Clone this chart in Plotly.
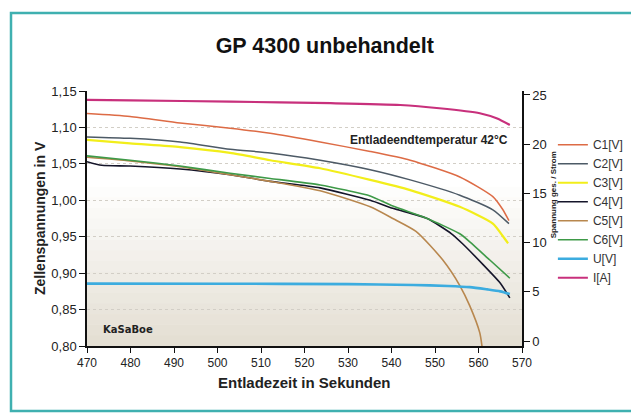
import plotly.graph_objects as go

# ---- data ----
t_c1 = [470, 479.9, 491.4, 502.9, 512.1, 523.6, 535.1, 544.3, 555.7, 563.3, 565.5, 567.0]
v_c1 = [1.119, 1.115, 1.106, 1.099, 1.092, 1.080, 1.067, 1.055, 1.032, 1.005, 0.988, 0.972]

t_c2 = [470, 479.9, 491.4, 502.9, 512.1, 523.6, 535.1, 544.3, 555.7, 563.3, 567.0]
v_c2 = [1.087, 1.085, 1.080, 1.070, 1.065, 1.055, 1.042, 1.028, 1.007, 0.987, 0.968]

t_c3 = [470, 479.9, 491.4, 502.9, 512.1, 523.6, 535.1, 544.3, 555.7, 563.3, 565.7, 566.8]
v_c3 = [1.083, 1.078, 1.073, 1.065, 1.055, 1.044, 1.028, 1.014, 0.991, 0.968, 0.950, 0.941]

t_c4 = [470, 473.4, 479.9, 491.4, 502.9, 512.1, 523.6, 535.1, 540.3, 548.2, 553.8, 556.4, 561.0, 564.9, 567.2]
v_c4 = [1.053, 1.048, 1.047, 1.043, 1.035, 1.026, 1.017, 1.000, 0.989, 0.975, 0.954, 0.940, 0.912, 0.887, 0.866]

t_c5 = [470, 479.9, 491.4, 502.9, 512.1, 523.6, 535.1, 540.3, 545.7, 551.8, 555.7, 558.0, 560.3, 560.8]
v_c5 = [1.059, 1.054, 1.046, 1.035, 1.026, 1.013, 0.991, 0.975, 0.957, 0.918, 0.883, 0.855, 0.818, 0.800]

t_c6 = [470, 479.9, 491.4, 502.9, 512.1, 523.6, 529.4, 535.1, 540.3, 548.2, 555.7, 558.0, 562.6, 567.2]
v_c6 = [1.061, 1.055, 1.047, 1.037, 1.030, 1.021, 1.014, 1.006, 0.992, 0.975, 0.954, 0.943, 0.918, 0.893]

t_u = [470, 500, 530, 545, 553, 558, 562, 565, 567.2]
v_u = [5.84, 5.83, 5.78, 5.70, 5.60, 5.48, 5.25, 5.05, 4.78]

t_i = [470, 480, 503, 526, 542, 551, 560.3, 564.3, 567.2]
v_i = [24.49, 24.45, 24.32, 24.16, 23.98, 23.65, 23.14, 22.60, 21.95]

x_ticks = [470, 480, 490, 500, 510, 520, 530, 540, 550, 560, 570]

series = [
    ("C1[V]", t_c1, v_c1, "#dd6b45", 1.5, "y"),
    ("C2[V]", t_c2, v_c2, "#4d5a66", 1.5, "y"),
    ("C3[V]", t_c3, v_c3, "#f2ee1a", 2.2, "y"),
    ("C4[V]", t_c4, v_c4, "#15152a", 1.6, "y"),
    ("C5[V]", t_c5, v_c5, "#b8874e", 1.6, "y"),
    ("C6[V]", t_c6, v_c6, "#3e9a48", 1.6, "y"),
    ("U[V]", t_u, v_u, "#3cacdf", 2.6, "y2"),
    ("I[A]", t_i, v_i, "#c8307c", 2.2, "y2"),
]

FONT = "Liberation Sans, Arial, sans-serif"

fig = go.Figure()
for name, xs, ys, col, w, ax in series:
    fig.add_trace(go.Scatter(
        x=xs, y=ys, name=name, mode="lines", yaxis=ax,
        line=dict(color=col, width=w, shape="spline", smoothing=0.6),
    ))

# gradient background (white top -> beige bottom)
shapes = []
n = 24
for k in range(n):
    f = k / n
    mix = max(0.0, (0.62 - f) / 0.62)
    r = int(round(255 - (255 - 228) * mix))
    g = int(round(255 - (255 - 223) * mix))
    b = int(round(255 - (255 - 211) * mix))
    shapes.append(dict(type="rect", xref="paper", yref="paper",
                       x0=0, x1=1, y0=k / n, y1=(k + 1) / n + 0.002,
                       fillcolor=f"rgb({r},{g},{b})", line=dict(width=0),
                       layer="below"))
# teal outer frame
shapes.append(dict(type="rect", xref="paper", yref="paper",
                   x0=-0.1747, x1=1.262, y0=-0.255, y1=1.306,
                   line=dict(color="#3fb0b0", width=2.5), layer="above"))

fig.update_layout(
    width=631, height=408,
    margin=dict(l=79, r=117, t=83, b=70, autoexpand=False),
    paper_bgcolor="white", plot_bgcolor="rgba(0,0,0,0)",
    separators=",.",
    font=dict(family=FONT, color="#222", size=12),
    title=dict(text="<b>GP 4300 unbehandelt</b>", x=0.502, xanchor="center",
               y=0.909, yanchor="middle", font=dict(size=21.5, color="#111")),
    xaxis=dict(range=[470, 570], tickvals=x_ticks, ticks="outside", ticklen=5,
               tickcolor="#111", showline=True, linecolor="#111", linewidth=1.5,
               showgrid=False, zeroline=False, tickfont=dict(size=12)),
    yaxis=dict(range=[0.80, 1.15], dtick=0.05, tickformat=".2f", ticks="outside",
               ticklen=6, tickcolor="#111", showline=True, linecolor="#111",
               linewidth=1.5, showgrid=True, gridcolor="#d2cec6", gridwidth=1,
               griddash="dot", zeroline=False, tickfont=dict(size=13)),
    yaxis2=dict(range=[-0.5, 25.4], tickvals=[0, 5, 10, 15, 20, 25], overlaying="y",
                side="right", ticks="outside", ticklen=6, tickcolor="#111",
                showline=True, linecolor="#111", linewidth=1.5, showgrid=False,
                zeroline=False, tickfont=dict(size=13)),
    legend=dict(x=1.071, y=0.846, xanchor="left", yanchor="top",
                font=dict(size=12, color="#333"), bgcolor="rgba(0,0,0,0)",
                itemwidth=30, tracegroupgap=0),
    shapes=shapes,
    annotations=[
        dict(text="<b>Zellenspannungen in V</b>", xref="paper", yref="paper",
             x=-0.108, y=0.502, xanchor="center", yanchor="middle",
             textangle=-90, showarrow=False, font=dict(size=14, color="#222")),
        dict(text="<b>Entladezeit in Sekunden</b>", xref="paper", yref="paper",
             x=0.5, y=-0.145, xanchor="center", yanchor="middle",
             showarrow=False, font=dict(size=15, color="#222")),
        dict(text="<b>Spannung ges. / Strom</b>", xref="paper", yref="paper",
             x=1.072, y=0.592, xanchor="center", yanchor="middle",
             textangle=-90, showarrow=False, font=dict(size=8, color="#222")),
        dict(text="<b>Entladeendtemperatur 42°C</b>", xref="paper", yref="paper",
             x=0.972, y=0.808, xanchor="right", yanchor="middle", showarrow=False,
             font=dict(size=12, color="#222")),
        dict(text="<b>KaSaBoe</b>", xref="paper", yref="paper",
             x=0.032, y=0.063, xanchor="left", yanchor="middle", showarrow=False,
             font=dict(size=10, color="#222", family="DejaVu Sans")),
    ],
)

fig.write_html("out.html")
